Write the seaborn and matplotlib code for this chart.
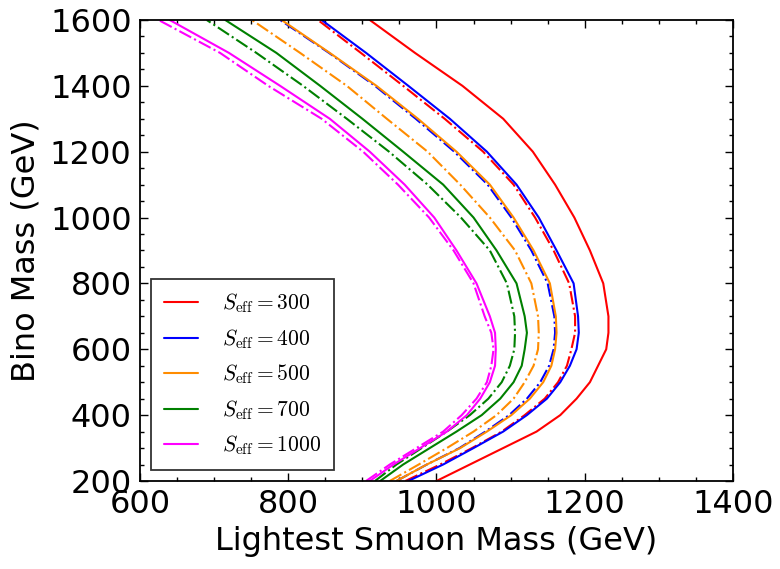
import pandas as pd
import matplotlib
matplotlib.use("Agg")
import matplotlib.pyplot as plt
import seaborn as sns
from matplotlib.ticker import MultipleLocator

# bino mass grid (GeV) and the smuon mass at that height
bino_mass = [200, 250, 300, 350, 400, 450, 500, 550, 600, 650, 700,
             800, 900, 1000, 1100, 1200, 1300, 1400, 1500, 1600]

red_solid = [1000, 1045, 1090, 1135, 1167, 1189, 1207, 1218, 1229, 1232, 1232,
             1225, 1207, 1186, 1160, 1130, 1090, 1035, 971, 910]
red_dash = [958, 1005, 1048, 1088, 1119, 1146, 1164, 1176, 1182, 1187, 1187,
            1179, 1158, 1133, 1104, 1063, 1011, 955, 898, 840]
blue_solid = [962, 1009, 1050, 1090, 1122, 1149, 1167, 1180, 1189, 1192, 1191,
              1185, 1162, 1138, 1108, 1068, 1018, 962, 905, 845]
blue_dash = [946, 987, 1031, 1066, 1098, 1122, 1140, 1152, 1158, 1160, 1159,
             1150, 1128, 1101, 1069, 1024, 972, 917, 855, 789]
orange_solid = [946, 987, 1032, 1068, 1101, 1126, 1144, 1155, 1160, 1162, 1161,
                1153, 1131, 1104, 1072, 1027, 975, 919, 856, 791]
orange_dash = [937, 976, 1014, 1050, 1081, 1104, 1119, 1131, 1137, 1138, 1137,
               1128, 1106, 1072, 1032, 988, 933, 879, 816, 751]
green_solid = [924, 955, 991, 1027, 1061, 1086, 1104, 1115, 1119, 1122, 1119,
               1108, 1081, 1050, 1009, 955, 900, 843, 784, 715]
green_dash = [917, 946, 980, 1014, 1045, 1070, 1088, 1099, 1105, 1106, 1105,
              1095, 1072, 1033, 988, 936, 879, 820, 757, 690]
magenta_solid = [910, 942, 978, 1014, 1041, 1059, 1072, 1079, 1080, 1079, 1072,
                 1054, 1027, 997, 957, 910, 856, 789, 720, 640]
magenta_dash = [905, 937, 973, 1009, 1034, 1054, 1068, 1074, 1077, 1074, 1065,
                1050, 1023, 990, 948, 901, 845, 773, 708, 625]

s_eff = [300, 400, 500, 700, 1000]
colors = ["#ff0000", "#0000ff", "#ff8c00", "#008000", "#ff00ff"]
solid_curves = [red_solid, blue_solid, orange_solid, green_solid, magenta_solid]
dash_curves = [red_dash, blue_dash, orange_dash, green_dash, magenta_dash]

sns.set_style("ticks")
plt.rcParams["font.family"] = ["DejaVu Sans"]
plt.rcParams["mathtext.fontset"] = "cm"
plt.rcParams["text.color"] = "black"
plt.rcParams["axes.labelcolor"] = "black"
plt.rcParams["xtick.color"] = "black"
plt.rcParams["ytick.color"] = "black"

fig = plt.figure(figsize=(7.8, 5.69), dpi=100)
ax = fig.add_axes([0.1795, 0.1547, 0.7602, 0.8102])

for s, c, sol, das in zip(s_eff, colors, solid_curves, dash_curves):
    df_s = pd.DataFrame({"smuon": sol, "bino": bino_mass})
    df_d = pd.DataFrame({"smuon": das, "bino": bino_mass})
    sns.lineplot(data=df_d, x="smuon", y="bino", sort=False, estimator=None,
                 color=c, linestyle="-.", linewidth=1.5, ax=ax)
    sns.lineplot(data=df_s, x="smuon", y="bino", sort=False, estimator=None,
                 color=c, linestyle="-", linewidth=1.5, ax=ax,
                 label=r"$S_{\rm eff}=%d$" % s)

ax.set_xlim(600, 1400)
ax.set_ylim(200, 1600)
ax.xaxis.set_major_locator(MultipleLocator(200))
ax.xaxis.set_minor_locator(MultipleLocator(50))
ax.yaxis.set_major_locator(MultipleLocator(200))
ax.yaxis.set_minor_locator(MultipleLocator(50))
ax.tick_params(which="both", direction="in", top=True, right=True, width=1, colors="black")
ax.tick_params(which="major", length=6, labelsize=23, pad=6)
ax.tick_params(which="minor", length=3)
for sp in ax.spines.values():
    sp.set_linewidth(1.3)
    sp.set_color("black")

ax.set_xlabel("Lightest Smuon Mass (GeV)", fontsize=23, labelpad=4)
ax.set_ylabel("Bino Mass (GeV)", fontsize=23, labelpad=6)

leg = ax.legend(loc="lower left", fontsize=15.5, frameon=True, fancybox=False,
                edgecolor="black", handlelength=1.6, handletextpad=1.1,
                labelspacing=0.55, borderpad=0.6, borderaxespad=0.5)
leg.get_frame().set_linewidth(1.3)

fig.savefig("out.png", dpi=100)
